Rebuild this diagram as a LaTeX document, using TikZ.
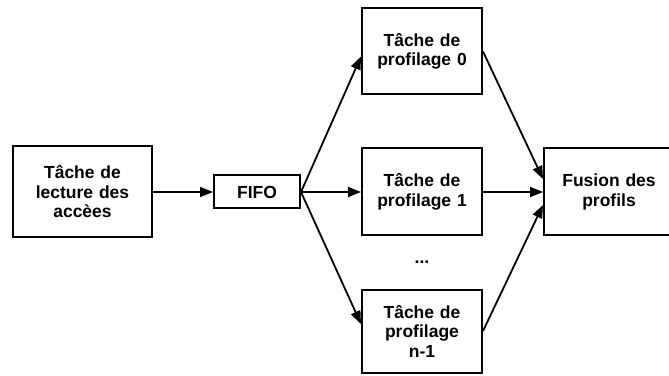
\documentclass[tikz,border=0pt]{standalone}
\usepackage{fontspec}
\setsansfont{Liberation Sans}
\usepackage{tikz}
\usetikzlibrary{arrows.meta, positioning, calc}

\begin{document}
\begin{tikzpicture}[
    x=1pt, y=1pt,
    node distance=52pt and 60pt,
    task/.style={rectangle, draw=black, line width=2pt, text width=110pt, minimum width=120pt, minimum height=87pt, align=center, font=\fontsize{17.5}{19.5}\selectfont\sffamily\bfseries, inner sep=0pt},
    fifobox/.style={rectangle, draw=black, line width=2pt, minimum width=86pt, minimum height=33pt, align=center, font=\fontsize{17.5}{19.5}\selectfont\sffamily\bfseries, inner sep=0pt},
    arrow/.style={-{Triangle[length=13pt, width=10pt]}, line width=1.8pt, black}
]
\useasboundingbox (0,0) rectangle (669,375);

% === Reading task and queue ===
\node[task, minimum width=139pt, minimum height=91pt, text width=130pt] (lecture) at (82.5,183) {T\^ache de\\lecture des\\acc\`ees};
\node[fifobox, right=60pt of lecture] (fifo) {FIFO};

% === Profiling tasks ===
\node[task, right=60pt of fifo] (prof1) {T\^ache de\\profilage 1};
\node[task, above=52pt of prof1, minimum height=86pt] (prof0) {T\^ache de\\profilage 0};
\node[task, below=52pt of prof1, minimum height=83pt] (profn) {T\^ache de\\profilage\\n-1};
\node[font=\fontsize{17.5}{19.5}\selectfont\sffamily\bfseries] (dots) at ($(prof1.south)!0.5!(profn.north)$) {...};

% === Merge ===
\node[task, right=60pt of prof1, minimum width=130pt, text width=120pt] (fusion) {Fusion des\\profils};

% === Arrows ===
\draw[arrow] (lecture.east) -- (fifo.west);
\draw[arrow] (fifo.east) -- ($(prof0.west)+(0,-5)$);
\draw[arrow] (fifo.east) -- (prof1.west);
\draw[arrow] (fifo.east) -- ($(profn.west)+(0,7)$);

\draw[arrow] (prof0.east) -- ($(fusion.west)+(0,13)$);
\draw[arrow] (prof1.east) -- (fusion.west);
\draw[arrow] (profn.east) -- ($(fusion.west)+(0,-13)$);

\end{tikzpicture}
\end{document}
